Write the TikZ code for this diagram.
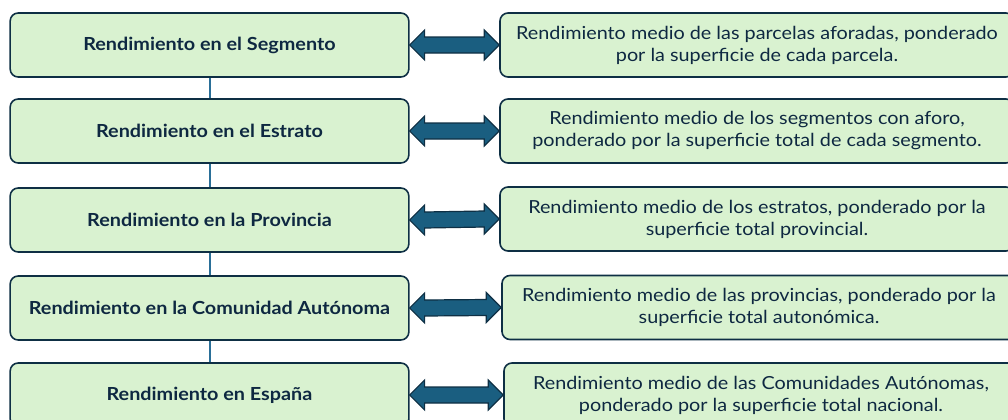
\documentclass[tikz,border=0pt]{standalone}
\usepackage{fontspec}
\setmainfont{Lato}[FakeStretch=1.1]
\usetikzlibrary{calc}

\definecolor{boxgreen}{HTML}{D9F2D0}
\definecolor{boxline}{HTML}{0E2F44}
\definecolor{textblue}{HTML}{0E2841}
\definecolor{arrowblue}{HTML}{1A5E80}
\definecolor{linkblue}{HTML}{2A6F98}

\begin{document}
\begin{tikzpicture}[x=0.75pt, y=-0.75pt,
        level/.style={draw=boxline, fill=boxgreen, line width=1.2pt, rounded corners=6pt,
            minimum width=299pt, minimum height=48pt, inner sep=0pt,
            text=textblue, font=\fontsize{13.5}{16.5}\selectfont\bfseries},
        note/.style={draw=boxline, fill=boxgreen, line width=1.2pt, rounded corners=6pt,
            minimum width=385.5pt, minimum height=48pt, inner sep=0pt, align=center,
            text=textblue, font=\fontsize{13.5}{16.5}\selectfont},
        link/.style={draw=linkblue, line width=1.5pt},
        dblarrow/.style={fill=arrowblue, draw=boxline, line width=0.9pt, line join=miter}]
        \useasboundingbox (0, 0) rectangle (1008, 419);

        % niveles de agregacion
        \node[level] (seg) at (209.5, 45) {Rendimiento en el Segmento};
        \node[level] (est) at (209.5, 131) {Rendimiento en el Estrato};
        \node[level] (prov) at (209.5, 220) {Rendimiento en la Provincia};
        \node[level] (ccaa) at (209.5, 308) {Rendimiento en la Comunidad Autónoma};
        \node[level] (esp) at (209.5, 395) {Rendimiento en España};

        \draw[link] (seg) -- (est);
        \draw[link] (est) -- (prov);
        \draw[link] (prov) -- (ccaa);
        \draw[link] (ccaa) -- (esp);

        % descripciones
        \node[note] (dseg) at (757, 45) {Rendimiento medio de las parcelas aforadas, ponderado\\ por la superficie de cada parcela.};
        \node[note] (dest) at (757, 131) {Rendimiento medio de los segmentos con aforo,\\ ponderado por la superficie total de cada segmento.};
        \node[note] (dprov) at (757, 219) {Rendimiento medio de los estratos, ponderado por la\\ superficie total provincial.};
        \node[note] (dccaa) at (759, 307.5) {Rendimiento medio de las provincias, ponderado por la\\ superficie total autonómica.};
        \node[note] (desp) at (761, 395) {Rendimiento medio de las Comunidades Autónomas,\\ ponderado por la superficie total nacional.};

        % flechas dobles
        \foreach \a/\b in {seg/dseg, est/dest, prov/dprov, ccaa/dccaa, esp/desp} {
            \filldraw[dblarrow] (\a.east) -- ($(\a.east)+(15,-15)$) -- ($(\a.east)+(15,-8)$)
                -- ($(\b.west)+(-15,-8)$) -- ($(\b.west)+(-15,-15)$) -- (\b.west)
                -- ($(\b.west)+(-15,15)$) -- ($(\b.west)+(-15,8)$)
                -- ($(\a.east)+(15,8)$) -- ($(\a.east)+(15,15)$) -- cycle;
        }
    \end{tikzpicture}
\end{document}
